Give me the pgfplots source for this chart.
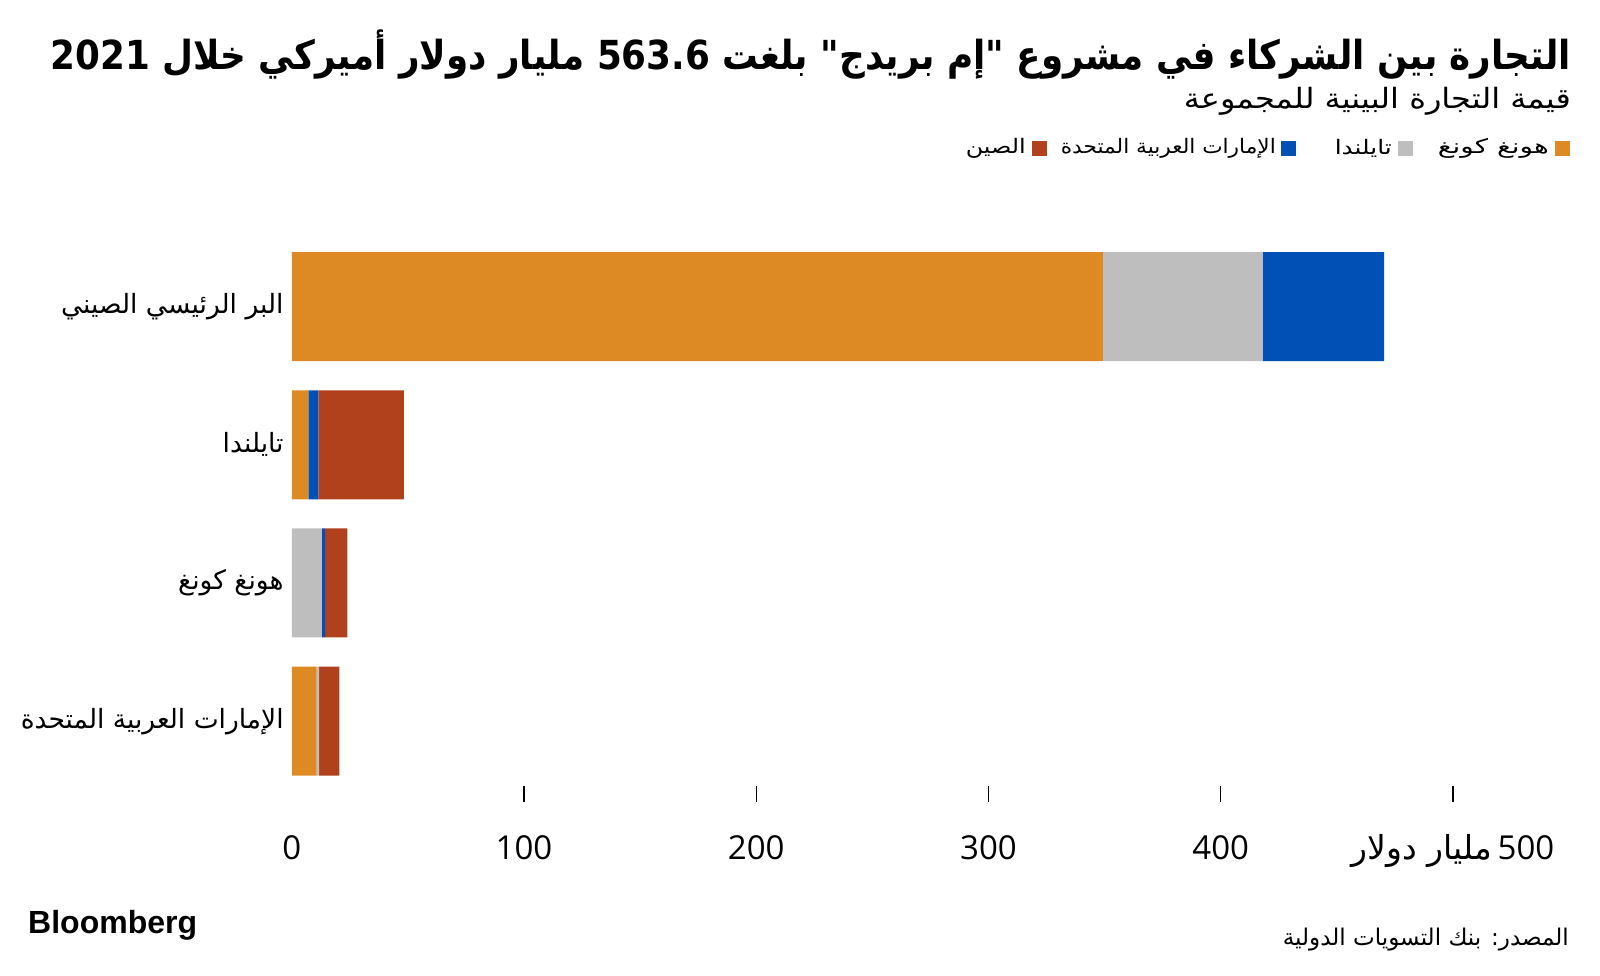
\documentclass[border=0pt]{standalone}
\usepackage{pgfplots}
\pgfplotsset{compat=1.18}
\usepackage{fontspec}
\usepackage{graphicx}
\setmainfont{Open Sans}
\newfontfamily\arabicfont[Script=Arabic]{DejaVu Sans}
\newfontfamily\logofont{Liberation Sans}
\TeXXeTstate=1
\definecolor{cHK}{HTML}{DD8A24}
\definecolor{cTH}{HTML}{BEBEBE}
\definecolor{cAE}{HTML}{0050B5}
\definecolor{cCN}{HTML}{B1401C}
\newcommand{\ar}[1]{{\arabicfont\beginR #1\endR}}

\begin{document}
\begin{tikzpicture}
\path[use as bounding box] (0,0) rectangle (1600pt,-975pt);

% title, subtitle
\node[anchor=north east, inner sep=0] at (1571pt,-30pt)
  {\resizebox{1520pt}{\height}{\bfseries\fontsize{40}{46}\selectfont\ar{التجارة بين الشركاء في مشروع "إم بريدج" بلغت \beginL563.6\endL{} مليار دولار أميركي خلال \beginL2021\endL}}};
\node[anchor=north east, inner sep=0] at (1571pt,-87pt)
  {\resizebox{387pt}{\height}{\fontsize{28}{32}\selectfont\ar{قيمة التجارة البينية للمجموعة}}};

% legend
\fill[cHK] (1555pt,-141pt) rectangle (1570pt,-156pt);
\node[anchor=east, inner sep=0] at (1549pt,-148pt) {\resizebox{111pt}{\height}{\fontsize{20}{24}\selectfont\ar{هونغ كونغ}}};
\fill[cTH] (1398pt,-141pt) rectangle (1413pt,-156pt);
\node[anchor=east, inner sep=0] at (1392pt,-148pt) {\resizebox{57pt}{\height}{\fontsize{20}{24}\selectfont\ar{تايلندا}}};
\fill[cAE] (1281pt,-141pt) rectangle (1296pt,-156pt);
\node[anchor=east, inner sep=0] at (1276pt,-148pt) {\resizebox{215pt}{\height}{\fontsize{20}{24}\selectfont\ar{الإمارات العربية المتحدة}}};
\fill[cCN] (1032pt,-141pt) rectangle (1047pt,-156pt);
\node[anchor=east, inner sep=0] at (1026pt,-148pt) {\resizebox{60pt}{\height}{\fontsize{20}{24}\selectfont\ar{الصين}}};

\begin{axis}[
  at={(291.8pt,-802pt)}, anchor=south west,
  scale only axis, width=1161.2pt, height=564.5pt,
  xbar stacked, bar width=109pt,
  xmin=0, xmax=500, ymin=-0.585, ymax=3.5,
  axis x line*=bottom, axis y line*=left,
  x axis line style={draw=none}, y axis line style={draw=none},
  xtick={100,200,300,400,500},
  xticklabels={100,200,300,400,{\ar{مليار دولار}\,500}},
  extra x ticks={0}, extra x tick labels={0},
  extra x tick style={major tick length=0pt},
  tick align=inside, major tick length=16pt,
  xtick style={black, line width=1.3pt},
  xticklabel style={font=\fontsize{33}{36}\selectfont, inner sep=0pt, anchor=base, yshift=-57pt},
  ytick={0,1,2,3},
  yticklabels={\ar{الإمارات العربية المتحدة}, \ar{هونغ كونغ}, \ar{تايلندا}, \ar{البر الرئيسي الصيني}},
  ytick style={draw=none},
  yticklabel style={font=\fontsize{26.5}{30}\selectfont, inner sep=0pt, anchor=east, xshift=-8pt},
  /pgf/number format/assume math mode=true,
]
\addplot[fill=cHK, draw=none] coordinates {(349.2,3) (7.1,2) (0,1) (10.7,0)};
\addplot[fill=cTH, draw=none] coordinates {(68.9,3) (0,2) (12.9,1) (1.1,0)};
\addplot[fill=cAE, draw=none] coordinates {(52.2,3) (4.3,2) (1.5,1) (0,0)};
\addplot[fill=cCN, draw=none] coordinates {(0,3) (36.9,2) (9.5,1) (8.7,0)};
\end{axis}

% footer
\node[anchor=base west, inner sep=0] at (28pt,-933pt) {\logofont\bfseries\fontsize{32}{36}\selectfont Bloomberg};
\node[anchor=base east, inner sep=0] at (1569pt,-945pt)
  {\resizebox{286pt}{\height}{\fontsize{23}{26}\selectfont\ar{المصدر: بنك التسويات الدولية}}};
\end{tikzpicture}
\end{document}
